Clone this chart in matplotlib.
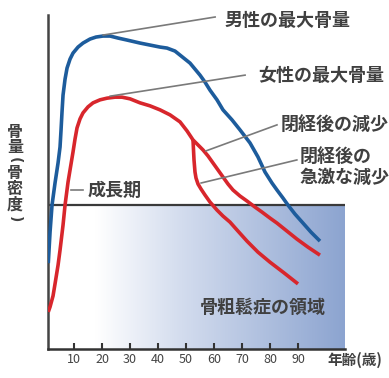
import numpy as np
import matplotlib
matplotlib.use("Agg")
import matplotlib.pyplot as plt
from matplotlib.colors import LinearSegmentedColormap

plt.rcParams['font.family'] = ['Noto Sans CJK JP', 'DejaVu Sans']

# ---- data (age in years, bone mass in arbitrary units 0-100) ----
male_age = [0.8, 1.43, 2.14, 3.21, 4.29, 5.0, 5.36, 5.71, 6.07, 6.79, 7.5, 8.57, 9.64, 11.43,
            13.21, 15.71, 17.86, 20.36, 22.86, 25.71, 28.93, 33.57, 37.14, 40.71, 43.21, 46.07,
            47.86, 49.64, 51.43, 55.0, 56.79, 58.57, 61.07, 63.21, 66.43, 69.29, 72.86, 75.71,
            78.21, 80.71, 82.5, 84.64, 86.43, 88.93, 91.79, 94.64, 97.86]
male_val = [25.7, 35.0, 43.1, 49.7, 55.7, 60.5, 65.6, 71.0, 76.0, 80.8, 84.1, 86.8, 88.6, 90.4,
            91.6, 92.8, 93.4, 93.7, 93.7, 93.1, 92.5, 91.6, 91.0, 90.4, 90.1, 89.2,
            88.0, 86.8, 85.6, 82.0, 79.9, 77.5, 74.6, 71.6, 68.6, 65.6, 61.7, 57.5,
            53.0, 49.7, 47.6, 45.2, 43.1, 40.4, 37.7, 35.0, 32.3]

female_age = [0.8, 1.43, 2.5, 3.21, 4.29, 5.0, 6.07, 6.79, 7.86, 8.57, 9.64, 10.36, 11.07, 12.14,
              13.21, 15.0, 16.79, 19.29, 21.79, 24.64, 27.14, 30.0, 33.57, 37.14, 40.71, 44.29,
              47.86, 50.36, 52.5, 54.29, 56.07, 57.86, 59.64, 61.43, 63.21, 65.0, 66.79, 69.29,
              71.79, 74.64, 77.14, 80.0, 82.5, 86.07, 89.64, 93.57, 97.86]
female_val = [11.1, 12.6, 15.9, 19.5, 25.1, 29.6, 37.1, 43.1, 50.0, 53.6, 59.0, 62.9, 66.2, 68.9,
              70.7, 72.5, 73.7, 74.6, 75.1, 75.4, 75.4, 74.9, 73.7, 72.8, 71.6, 70.1,
              68.0, 65.3, 62.6, 61.1, 59.6, 57.8, 55.7, 53.6, 51.5, 49.4, 47.6, 45.8,
              44.3, 42.5, 41.0, 39.2, 37.7, 35.3, 32.9, 30.5, 28.1]

rapid_age = [52.5, 52.86, 53.21, 53.57, 54.29, 55.36, 56.79, 58.57, 61.07, 63.21, 65.71,
             68.57, 71.79, 75.71, 80.0, 85.0, 90.0]
rapid_val = [62.6, 56.6, 53.0, 51.2, 49.4, 47.9, 46.1, 44.0, 41.6, 39.8, 38.0,
             35.3, 32.3, 29.0, 26.0, 22.8, 19.5]

threshold = 43.1
xticks = [10, 20, 30, 40, 50, 60, 70, 80, 90]

# ---- figure ----
W, H = 389, 378
fig = plt.figure(figsize=(W / 100, H / 100), dpi=100)
ax = fig.add_axes([48 / W, 29 / H, 297 / W, 334 / H])
xmin, xmax = 0.7, 106.8
ymin, ymax = 0, 100
ax.set_xlim(xmin, xmax)
ax.set_ylim(ymin, ymax)

# gradient osteoporosis region
cmap = LinearSegmentedColormap.from_list(
    'g', [(0.0, '#ffffff'), (0.16, '#ffffff'), (0.45, '#d3dcee'), (1.0, '#8ca4d0')])
grad = np.linspace(0, 1, 256).reshape(1, -1)
ax.imshow(grad, cmap=cmap, extent=[xmin, xmax, 0, threshold], aspect='auto',
          origin='lower', zorder=0)
ax.axhline(threshold, color='#3a3a3a', lw=1.6, zorder=2)

# curves
blue = '#1d5c9c'
red = '#d8262c'
lkw = dict(lw=2.6, solid_capstyle='butt', solid_joinstyle='round', zorder=3)
ax.plot(male_age, male_val, color=blue, **lkw)
ax.plot(female_age, female_val, color=red, **lkw)
ax.plot(rapid_age, rapid_val, color=red, **lkw)

# axes styling
for s in ['top', 'right']:
    ax.spines[s].set_visible(False)
ax.spines['left'].set_color('#444444')
ax.spines['left'].set_linewidth(1.8)
ax.spines['bottom'].set_color('#333333')
ax.spines['bottom'].set_linewidth(1.8)
ax.set_xticks(xticks)
ax.set_xticklabels([str(t) for t in xticks], fontsize=9, color='#444444')
ax.tick_params(axis='x', direction='in', length=4, width=1.5, color='#333333', pad=3)
ax.set_yticks([])

# annotations
tcol = '#404040'
lcol = '#7a7a7a'
fs = 13
kw = dict(fontsize=fs, color=tcol, fontweight='bold', va='center', ha='left', clip_on=False)

def leader(x0, y0, x1, y1):
    ax.plot([x0, x1], [y0, y1], color=lcol, lw=1.2, zorder=4, clip_on=False)

leader(20.4, 94.0, 60.4, 99.4)
ax.text(63.9, 98.5, '男性の最大骨量', **kw)
leader(22.9, 75.7, 71.1, 82.0)
ax.text(75.7, 82.0, '女性の最大骨量', **kw)
leader(57.1, 59.3, 82.5, 67.1)
ax.text(83.9, 67.1, '閉経後の減少', **kw)
leader(55.4, 49.7, 89.6, 56.6)
ax.text(90.7, 54.5, '閉経後の\n急激な減少', linespacing=1.1, **kw)
leader(8.9, 47.6, 13.2, 47.6)
ax.text(15.0, 47.6, '成長期', **kw)
ax.text(77.3, 12.6, '骨粗鬆症の領域', fontsize=fs, color=tcol, fontweight='bold',
        va='center', ha='center')

# y label (vertical, stacked; parentheses rotated as in vertical writing)
ychars = [('骨', 132, 0, 11.5), ('量', 147, 0, 11.5), ('(', 160, -90, 10),
          ('骨', 173, 0, 11.5), ('密', 189, 0, 11.5), ('度', 205, 0, 11.5),
          (')', 219, -90, 10)]
for ch, py, rot, size in ychars:
    fam = ['DejaVu Sans'] if rot else ['Noto Sans CJK JP']
    fig.text(15 / W, 1 - py / H, ch, fontsize=size, color=tcol, fontweight='bold',
             ha='center', va='center', rotation=rot, rotation_mode='anchor', family=fam)

fig.text(327 / W, 1 - 360 / H, '年齢(歳)', fontsize=10.5, color=tcol, fontweight='bold',
         ha='left', va='center')

fig.savefig('out.png', dpi=100)
